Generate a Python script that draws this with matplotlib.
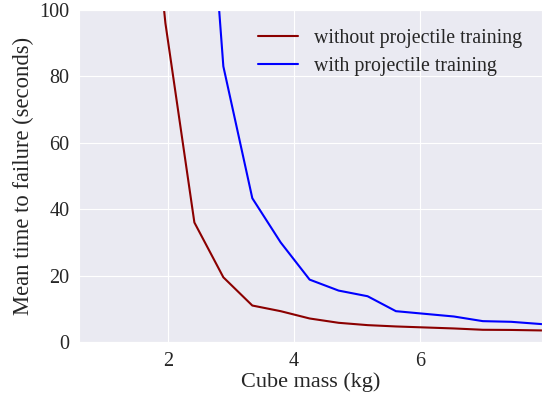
import matplotlib
matplotlib.use("Agg")
import matplotlib.pyplot as plt
import seaborn as sns

sns.set_style("darkgrid")
plt.rcParams['font.family'] = ['Liberation Serif', 'DejaVu Serif']

mass = [0.59, 1.05, 1.51, 1.96, 2.42, 2.88, 3.34, 3.79, 4.25, 4.71,
        5.17, 5.62, 6.08, 6.54, 7.00, 7.45, 7.94]
without_training = [900, 450, 180, 96, 36, 19.5, 11, 9.3, 7.1, 5.8,
                    5.1, 4.7, 4.4, 4.1, 3.7, 3.65, 3.5]
with_training = [2000, 1200, 700, 400, 200, 83, 43.3, 30, 18.8, 15.5,
                 13.8, 9.3, 8.5, 7.7, 6.3, 6.1, 5.4]

fig = plt.figure(figsize=(5.42, 3.95), dpi=100)
ax = fig.add_axes([0.146, 0.134, 0.854, 0.841])
ax.plot(mass, without_training, color='#8B0000', lw=1.5, label='without projectile training')
ax.plot(mass, with_training, color='#0000FF', lw=1.5, label='with projectile training')
ax.set_xlim(0.59, 7.94)
ax.set_ylim(0, 100)
ax.set_xticks([2, 4, 6])
ax.set_yticks([0, 20, 40, 60, 80, 100])
ax.tick_params(labelsize=14.5, colors='#262626')
ax.set_xlabel('Cube mass (kg)', fontsize=16, color='#262626', labelpad=1)
ax.set_ylabel('Mean time to failure (seconds)', fontsize=16.3, color='#262626', labelpad=4)
ax.legend(loc='upper right', frameon=False, fontsize=14.3, borderaxespad=0.55,
          labelspacing=0.45, bbox_to_anchor=(0.997, 1.0))
fig.savefig('out.png', dpi=100)
